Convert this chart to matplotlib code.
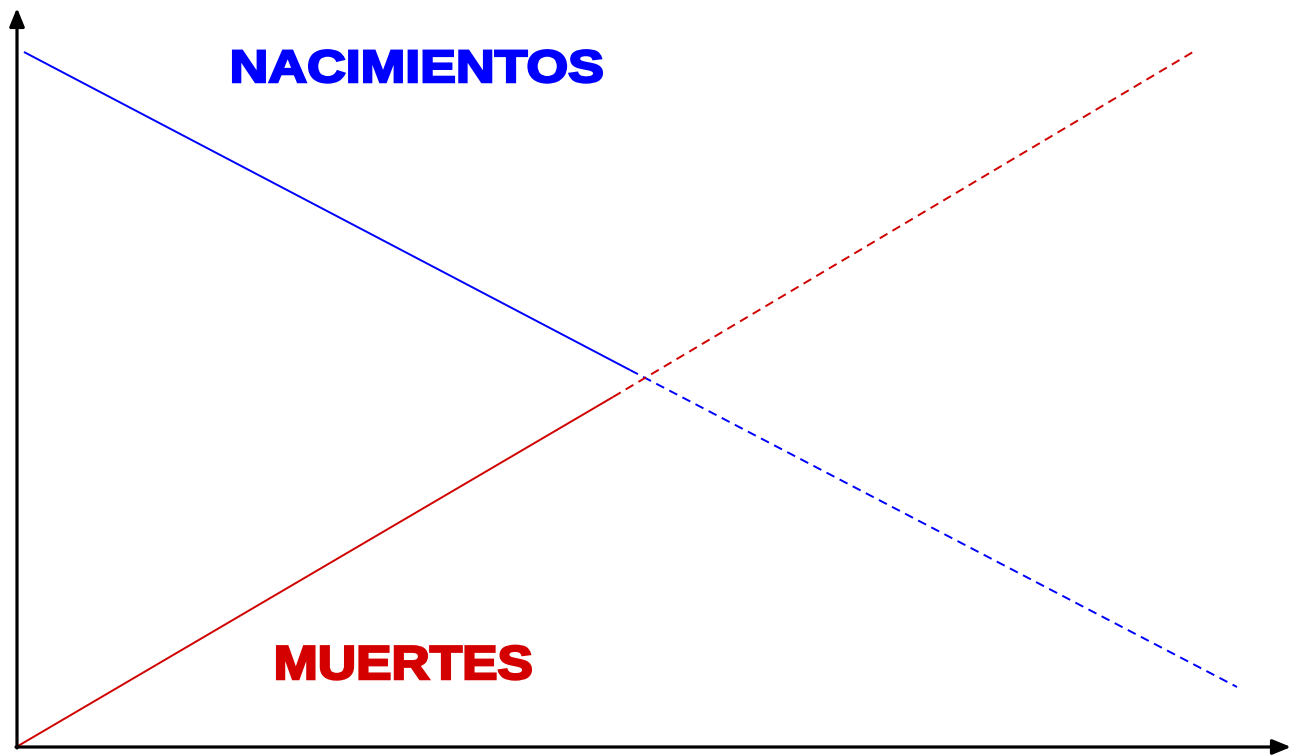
import matplotlib.pyplot as plt
from matplotlib.font_manager import FontProperties
from matplotlib.patches import PathPatch
from matplotlib.textpath import TextPath
from matplotlib.transforms import Affine2D

# Lines, in figure pixels (y measured upward from the bottom)
births_solid_x = [24, 630]
births_solid_y = [703, 385]
births_proj_x = [630, 1237]
births_proj_y = [385, 68]

deaths_solid_x = [18, 613]
deaths_solid_y = [9, 358]
deaths_proj_x = [613, 1193]
deaths_proj_y = [358, 703]

births_label = "NACIMIENTOS"
deaths_label = "MUERTES"


def _heavy_text(ax, s, left, right, baseline, cap_height, color):
    """Wide, heavy caption drawn as a path so it can be stretched like Arial Black."""
    prop = FontProperties(family="Liberation Sans", weight="bold")
    tp = TextPath((0, 0), s, size=100, prop=prop)
    ext = tp.get_extents()
    pad = 1.2
    sx = (right - left - 2 * pad) / ext.width
    sy = (cap_height - 2 * pad) / ext.height
    tr = Affine2D().translate(-ext.x0, 0).scale(sx, sy).translate(left + pad, baseline)
    path = tr.transform_path(tp)
    ax.add_patch(PathPatch(path, facecolor=color, edgecolor=color, lw=1.8, joinstyle="miter"))


fig = plt.figure(figsize=(12.91, 7.55), dpi=100)
ax = fig.add_axes([0, 0, 1, 1])
ax.set_xlim(0, 1291)
ax.set_ylim(0, 755)
ax.axis("off")

blue = "#0000ff"
red = "#d00000"
dash = (0, (4.6, 3.0))

ax.plot(births_solid_x, births_solid_y, color=blue, lw=1.4, solid_capstyle="butt")
ax.plot(births_proj_x, births_proj_y, color=blue, lw=1.4, linestyle=dash)
ax.plot(deaths_solid_x, deaths_solid_y, color=red, lw=1.4, solid_capstyle="butt")
ax.plot(deaths_proj_x, deaths_proj_y, color=red, lw=1.4, linestyle=dash)

# axes with arrow heads
arrow = dict(arrowstyle="-|>,head_length=1.1,head_width=0.45", color="black", lw=2.3,
             shrinkA=0, shrinkB=0)
ax.annotate("", xy=(17, 747), xytext=(17, 7), arrowprops=arrow)
ax.annotate("", xy=(1291, 8), xytext=(16, 8), arrowprops=arrow)

_heavy_text(ax, births_label, 232, 603, 673, 34.5, blue)
_heavy_text(ax, deaths_label, 276, 532, 76, 36, "#d40000")

fig.savefig("out.png", dpi=100)
